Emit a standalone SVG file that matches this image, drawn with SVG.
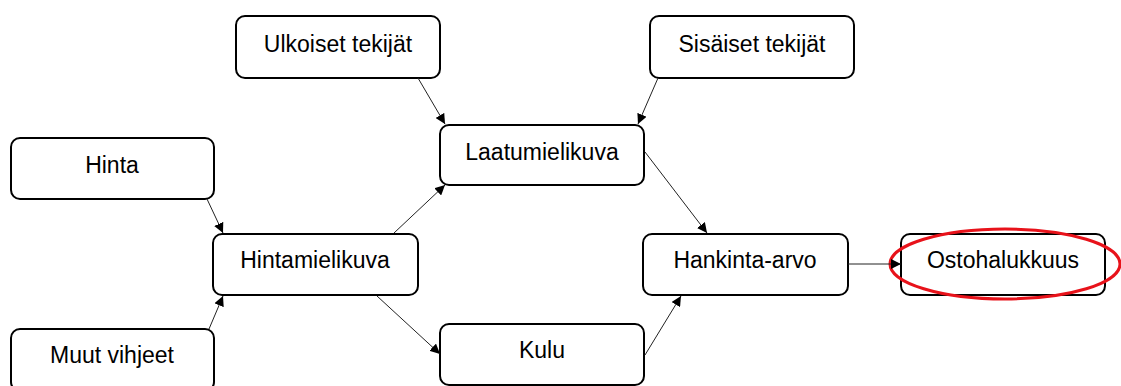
<svg xmlns="http://www.w3.org/2000/svg" width="1121" height="386" viewBox="0 0 1121 386">
  <style>
    .box { fill: #ffffff; stroke: #000000; stroke-width: 2; }
    .lbl { font-family: "Liberation Sans", Arial, sans-serif; font-size: 23px; fill: #000000; text-anchor: middle; }
    .edge { fill: none; stroke: #222222; stroke-width: 1; marker-end: url(#arrow); }
  </style>
  <defs>
    <marker id="arrow" viewBox="0 0 10 10" refX="10" refY="5" markerWidth="10" markerHeight="10" markerUnits="userSpaceOnUse" orient="auto">
      <path d="M0,0 L10,5 L0,10 Z" fill="#000000"/>
    </marker>
  </defs>
  <rect width="1121" height="386" fill="#ffffff"/>

  <g id="hinta">
    <rect class="box" x="11" y="138" width="203" height="61" rx="9"/>
    <text class="lbl" x="112" y="173">Hinta</text>
  </g>
  <g id="muut-vihjeet">
    <rect class="box" x="11" y="329" width="203" height="62" rx="9"/>
    <text class="lbl" x="112" y="363">Muut vihjeet</text>
  </g>
  <g id="hintamielikuva">
    <rect class="box" x="213" y="234" width="205" height="61" rx="9"/>
    <text class="lbl" x="315" y="268">Hintamielikuva</text>
  </g>
  <g id="ulkoiset-tekijat">
    <rect class="box" x="236" y="16" width="204" height="62" rx="9"/>
    <text class="lbl" x="338" y="52">Ulkoiset tekijät</text>
  </g>
  <g id="sisaiset-tekijat">
    <rect class="box" x="650" y="16" width="204" height="62" rx="9"/>
    <text class="lbl" x="752" y="52">Sisäiset tekijät</text>
  </g>
  <g id="laatumielikuva">
    <rect class="box" x="440" y="125" width="204" height="60" rx="9"/>
    <text class="lbl" x="542" y="160">Laatumielikuva</text>
  </g>
  <g id="kulu">
    <rect class="box" x="440" y="324" width="204" height="61" rx="9"/>
    <text class="lbl" x="542" y="358">Kulu</text>
  </g>
  <g id="hankinta-arvo">
    <rect class="box" x="643" y="234" width="205" height="61" rx="9"/>
    <text class="lbl" x="745" y="268">Hankinta-arvo</text>
  </g>
  <g id="ostohalukkuus">
    <rect class="box" x="901" y="234" width="204" height="61" rx="9"/>
    <text class="lbl" x="1003" y="268">Ostohalukkuus</text>
    <!-- highlight ring around the outcome node -->
    <ellipse cx="1005" cy="264" rx="115" ry="35" fill="none" stroke="#e8121a" stroke-width="3"/>
  </g>

  <g id="connectors">
    <line class="edge" x1="207" y1="199" x2="223" y2="233"/>
    <line class="edge" x1="209" y1="329" x2="223" y2="296"/>
    <line class="edge" x1="394" y1="233" x2="445" y2="185"/>
    <line class="edge" x1="377" y1="296" x2="440" y2="354"/>
    <line class="edge" x1="418" y1="78" x2="445" y2="124"/>
    <line class="edge" x1="658" y1="78" x2="638" y2="124"/>
    <line class="edge" x1="645" y1="152" x2="707" y2="233"/>
    <line class="edge" x1="645" y1="355" x2="681" y2="296"/>
    <line class="edge" x1="848" y1="264" x2="901" y2="264"/>
  </g>
</svg>
